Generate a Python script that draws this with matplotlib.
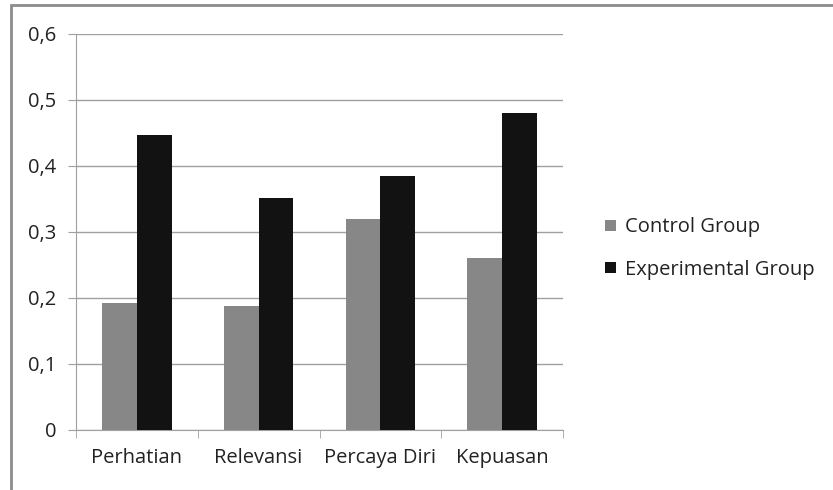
import matplotlib.pyplot as plt
import numpy as np
from matplotlib.patches import Rectangle

categories = ["Perhatian", "Relevansi", "Percaya Diri", "Kepuasan"]
control = [0.192, 0.187, 0.320, 0.261]
experimental = [0.447, 0.352, 0.385, 0.480]
yticks = [0, 0.1, 0.2, 0.3, 0.4, 0.5, 0.6]
ytick_labels = ["0", "0,1", "0,2", "0,3", "0,4", "0,5", "0,6"]

plt.rcParams['font.family'] = ['Open Sans', 'DejaVu Sans']

fig = plt.figure(figsize=(8.33, 4.9), dpi=100)
ax = fig.add_axes([76 / 833, 1 - 429.7 / 490, (563 - 76) / 833, (429.7 - 34) / 490])

x = np.arange(len(categories))
w = 0.285
ax.bar(x - w / 2, control, w, color="#878787", label="Control Group", zorder=3)
ax.bar(x + w / 2, experimental, w, color="#121212", label="Experimental Group", zorder=3)

ax.set_xlim(-0.5, len(categories) - 0.5)
ax.set_ylim(0, 0.6)
ax.set_yticks(yticks)
ax.set_yticklabels(ytick_labels)
ax.set_xticks(x)
ax.set_xticklabels(categories)
ax.set_xticks(np.arange(len(categories) + 1) - 0.5, minor=True)
ax.tick_params(axis="x", which="major", length=0, pad=13)
ax.tick_params(axis="x", which="minor", length=6, color="#a0a0a0")
ax.tick_params(axis="y", length=6, color="#a0a0a0", pad=8)
ax.tick_params(labelsize=14.5, labelcolor="#222222")

ax.yaxis.grid(True, color="#a0a0a0", linewidth=1, zorder=0)
for s in ["top", "right"]:
    ax.spines[s].set_visible(False)
for s in ["left", "bottom"]:
    ax.spines[s].set_color("#a0a0a0")

leg = ax.legend(loc="center left", bbox_to_anchor=(1.05, 0.458), frameon=False,
                fontsize=14.5, handlelength=0.5, handleheight=0.5, handletextpad=0.45,
                labelspacing=1.1)
for t in leg.get_texts():
    t.set_color("#222222")

# outer chart border
fig.patches.append(Rectangle((11 / 833, -0.1), 1.0, 1.1 - 5 / 490, transform=fig.transFigure,
                             fill=False, edgecolor="#8c8c8c", linewidth=2))

plt.savefig("out.png", dpi=100)
